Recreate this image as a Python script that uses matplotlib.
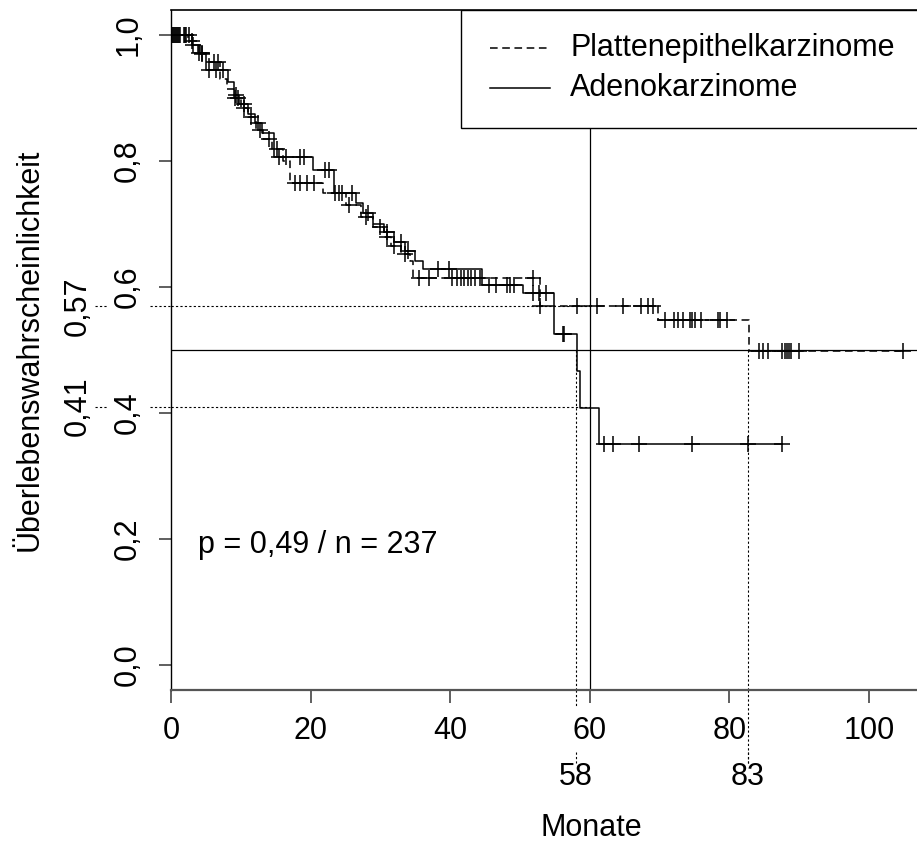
import numpy as np
import matplotlib
matplotlib.use("Agg")
import matplotlib.pyplot as plt
from matplotlib import transforms
from matplotlib.patches import Rectangle
from matplotlib.lines import Line2D

plt.rcParams["font.family"] = ["Liberation Sans", "DejaVu Sans"]
plt.rcParams["font.size"] = 22

# Kaplan-Meier Schaetzer
ade_t = [0, 3.0, 4.2, 5.0, 8.2, 9.0, 9.8, 11.0, 12.0, 13.0, 14.7, 20.4, 23.3, 26.5,
         27.5, 29.0, 30.5, 32.0, 33.5, 35.0, 36.1, 44.6, 50.4, 54.8, 58.2, 58.6, 61.3]
ade_s = [1.0, 0.985, 0.97, 0.944, 0.925, 0.905, 0.89, 0.875, 0.86, 0.845, 0.806, 0.786,
         0.749, 0.733, 0.717, 0.70, 0.687, 0.672, 0.657, 0.642, 0.629, 0.604, 0.59,
         0.526, 0.467, 0.408, 0.35]
ade_cens = [0.3, 0.6, 0.9, 1.2, 2.0, 2.6, 3.2, 4.5, 5.5, 6.5, 7.5, 9.3, 10.5, 12.5, 15.5,
            16.5, 18.5, 19.0, 22.0, 22.7, 23.5, 26.0, 28.2, 31.0, 33.0, 34.0, 38.3, 39.8,
            45.5, 46.5, 48.2, 48.6, 49.1, 51.8, 52.7, 53.7, 56.1, 56.3, 62.0, 63.3, 67.0,
            74.6, 82.6, 87.5]

pla_t = [0, 2.5, 3.8, 5.5, 7.0, 8.0, 9.0, 10.0, 11.0, 12.2, 13.2, 14.5, 16.0, 17.1, 21.8,
         25.0, 27.2, 29.0, 30.5, 31.5, 33.0, 34.3, 34.6, 52.9, 69.8, 82.8]
pla_s = [1.0, 0.99, 0.972, 0.958, 0.93, 0.915, 0.90, 0.885, 0.87, 0.85, 0.835, 0.82, 0.80,
         0.765, 0.749, 0.73, 0.711, 0.695, 0.68, 0.665, 0.652, 0.642, 0.615, 0.57, 0.547,
         0.499]
pla_cens = [0.1, 0.4, 0.7, 1.0, 1.3, 1.8, 2.2, 3.0, 4.0, 4.5, 6.2, 6.8, 9.2, 9.6, 10.5,
            11.5, 12.8, 14.0, 15.2, 17.8, 18.5, 19.5, 20.5, 24.0, 24.5, 25.5, 28.0, 30.0,
            31.0, 32.0, 33.5, 35.5, 37.0, 40.3, 41.0, 41.5, 42.0, 42.5, 43.0, 43.5, 44.3,
            51.9, 52.9, 58.2, 61.1, 64.7, 67.3, 68.3, 69.0, 70.8, 72.0, 72.7, 73.4, 74.4,
            74.7, 75.1, 75.9, 78.3, 78.7, 79.7, 84.2, 84.8, 85.5, 87.6, 87.9, 88.2, 88.5,
            88.8, 89.9, 104.8]

x_ticks = [0, 20, 40, 60, 80, 100]
y_ticks = [0.0, 0.2, 0.4, 0.6, 0.8, 1.0]
y_labels = ["0,0", "0,2", "0,4", "0,6", "0,8", "1,0"]
t_ref = 60
s_ref = [0.57, 0.41]
s_ref_labels = ["0,57", "0,41"]
medians = [58, 82.6]
median_labels = ["58", "83"]
legend_labels = ["Plattenepithelkarzinome", "Adenokarzinome"]


def surv_at(t_arr, s_arr, x):
    idx = np.searchsorted(t_arr, x, side="right") - 1
    return np.asarray(s_arr)[idx]


fig = plt.figure(figsize=(9.17, 8.42), dpi=100)
W, H = 917, 842
ax = fig.add_axes([171 / W, (H - 690) / H, 746 / W, 680 / H])
ax.set_xlim(0, 746 / 6.98)
ax.set_ylim(-0.04, 1.04)

lw = 1.1
# Kurven
for t, s, cens, ls in [(pla_t, pla_s, pla_cens, (0, (5, 3))), (ade_t, ade_s, ade_cens, "-")]:
    tt = list(t) + [max(cens)]
    ss = list(s) + [s[-1]]
    ax.step(tt, ss, where="post", color="black", lw=lw, linestyle=ls, zorder=3)
    ax.plot(cens, surv_at(t, s, cens), linestyle="none", marker="+", ms=12,
            mew=1.1, color="black", zorder=3)

# Referenzlinien
ax.axhline(0.5, color="black", lw=0.9, zorder=2)
ax.axvline(t_ref, color="black", lw=0.9, zorder=2)

tr_y = transforms.blended_transform_factory(ax.transAxes, ax.transData)
tr_x = transforms.blended_transform_factory(ax.transData, ax.transAxes)
for v, lab in zip(s_ref, s_ref_labels):
    ax.plot([-0.028, 0], [v, v], transform=tr_y, color="black", lw=0.8, ls=(0, (2, 2)), clip_on=False)
    ax.plot([0, t_ref], [v, v], color="black", lw=0.8, ls=(0, (2, 2)), zorder=2)
    ax.plot([-0.102, -0.085], [v, v], transform=tr_y, color="black", lw=0.8, ls=(0, (2, 2)), clip_on=False)
    ax.text(-0.1247, v, lab, transform=tr_y, rotation=90, ha="center", va="center")

for i, (m, lab) in enumerate(zip(medians, median_labels)):
    ax.plot([m, m], [-0.04, 0.5], color="black", lw=0.8, ls=(0, (2, 2)), zorder=2)
    low = -0.107 if i == 1 else -0.025
    ax.plot([m, m], [0, low], transform=tr_x, color="black", lw=0.8, ls=(0, (2, 2)), clip_on=False)
    ax.plot([m, m], [-0.091, -0.107], transform=tr_x, color="black", lw=0.8, ls=(0, (2, 2)), clip_on=False)
    ax.text(m, -0.128, lab, transform=tr_x, ha="center", va="center")

# Legende
ax.add_patch(Rectangle((0.3887, 0.8265), 0.7, 0.1735, transform=ax.transAxes,
                       facecolor="white", edgecolor="black", lw=1.0, zorder=5))
for yy, ls, lab in [(0.944, (0, (5, 3)), legend_labels[0]), (0.885, "-", legend_labels[1])]:
    ax.add_line(Line2D([0.4276, 0.508], [yy, yy], transform=ax.transAxes, color="black",
                       lw=lw, linestyle=ls, zorder=6))
    ax.text(0.5349, yy, lab, transform=ax.transAxes, va="center", ha="left", zorder=6)

ax.text(3.8, 0.19, "p = 0,49 / n = 237", va="center", ha="left")

# Achsen
ax.spines["right"].set_visible(False)
ax.spines["top"].set_linewidth(1.2)
ax.spines["left"].set_linewidth(1.0)
ax.spines["bottom"].set_linewidth(1.6)
ax.spines["bottom"].set_color("#555555")
ax.set_xticks(x_ticks)
ax.set_xticklabels([str(v) for v in x_ticks])
ax.set_yticks(y_ticks)
ax.set_yticklabels(y_labels, rotation=90, va="center")
ax.tick_params(axis="both", direction="out", length=9, width=1.2, color="#444444")
ax.tick_params(axis="x", pad=10)
ax.tick_params(axis="y", pad=11)

fig.text(591 / W, 1 - 828 / H, "Monate", ha="center", va="center")
fig.text(30 / W, 1 - 350 / H, "Überlebenswahrscheinlichkeit", rotation=90,
         ha="center", va="center")

fig.savefig("out.png", dpi=100)
